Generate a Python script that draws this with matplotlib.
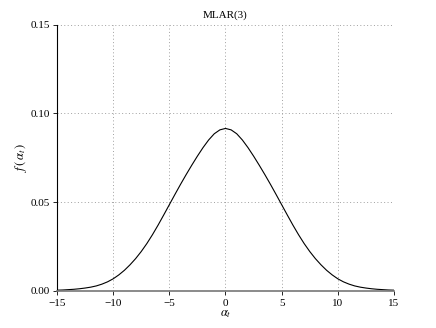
import matplotlib
matplotlib.use("Agg")
import matplotlib.pyplot as plt
import numpy as np

plt.rcParams['font.family'] = ['Liberation Serif', 'DejaVu Serif']
plt.rcParams['mathtext.fontset'] = 'stix'

# density, one side (x = 0..15 in steps of 0.5); curve is symmetric
half_x = [0, 0.5, 1, 1.5, 2, 2.5, 3, 3.5, 4, 4.5, 5, 5.5, 6, 6.5, 7, 7.5,
          8, 8.5, 9, 9.5, 10, 10.5, 11, 11.5, 12, 12.5, 13, 13.5, 14, 14.5, 15]
half_f = [0.0915, 0.0907, 0.0885, 0.0850, 0.0807, 0.0759, 0.0708, 0.0655,
          0.0600, 0.0543, 0.0485, 0.0427, 0.0370, 0.0316, 0.0266, 0.0221,
          0.0181, 0.0146, 0.0115, 0.0089, 0.0067, 0.0050, 0.0037, 0.0027,
          0.0020, 0.0015, 0.0011, 0.0008, 0.0006, 0.0004, 0.0003]

alpha = [-v for v in half_x[:0:-1]] + half_x
dens = half_f[:0:-1] + half_f

x_ticks = [-15, -10, -5, 0, 5, 10, 15]
y_ticks = [0.00, 0.05, 0.10, 0.15]
y_labels = ['0.00', '0.05', '0.10', '0.15']

fig = plt.figure(figsize=(4.36, 3.28), dpi=100)
ax = fig.add_axes([0.1307, 0.1137, 0.773, 0.811])

ax.plot(alpha, dens, color='black', linewidth=0.8, solid_joinstyle='round')

ax.set_xlim(-15, 15)
ax.set_ylim(0, 0.15)
ax.set_xticks(x_ticks)
ax.set_yticks(y_ticks)
ax.set_yticklabels(y_labels)
ax.set_xticklabels([str(t).replace('-', '\u2212') for t in x_ticks])

ax.grid(True, linestyle=(0, (1, 2.5)), color='#a0a0a0', linewidth=0.7)
ax.spines['top'].set_visible(False)
ax.spines['right'].set_visible(False)
ax.spines['left'].set_linewidth(0.8)
ax.spines['bottom'].set_color('#777777')
ax.spines['bottom'].set_linewidth(1.2)
ax.tick_params(direction='out', length=3, width=0.6, labelsize=8, pad=2)
ax.tick_params(axis='x', pad=3)

ax.set_title('MLAR(3)', fontsize=8, pad=5)
ax.set_xlabel(r'$\alpha_t$', fontsize=9, labelpad=0)
ax.set_ylabel(r'$f\,(\,\alpha_t\,)$', fontsize=9, labelpad=1)

fig.savefig('out.png', dpi=100)
